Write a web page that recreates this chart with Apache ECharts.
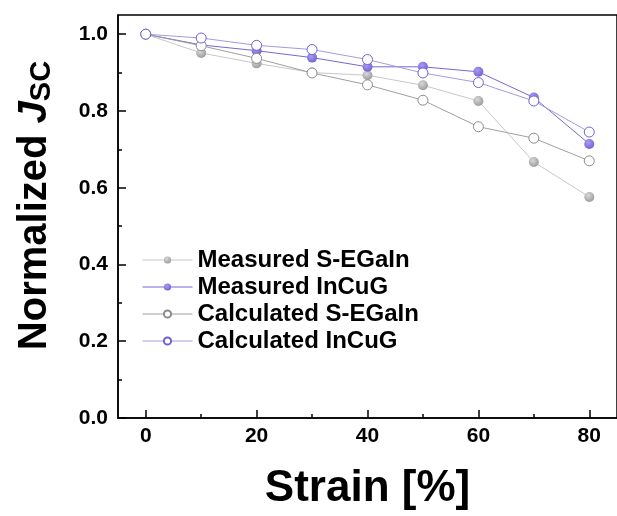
<!DOCTYPE html>
<html>
<head>
<meta charset="utf-8">
<script src="https://cdn.jsdelivr.net/npm/echarts@6/dist/echarts.min.js"></script>
<style>
html,body{margin:0;padding:0;background:#fff;}
#chart{width:617px;height:516px;}
</style>
</head>
<body>
<div id="chart"></div>
<script>
const strain = [0, 10, 20, 30, 40, 50, 60, 70, 80];
const measuredSEGaIn = [1.0, 0.951, 0.924, 0.900, 0.893, 0.867, 0.826, 0.667, 0.576];
const measuredInCuG = [1.0, 0.972, 0.957, 0.939, 0.915, 0.915, 0.902, 0.835, 0.714];
const calculatedSEGaIn = [1.0, 0.970, 0.937, 0.899, 0.868, 0.828, 0.759, 0.729, 0.670];
const calculatedInCuG = [1.0, 0.990, 0.971, 0.960, 0.934, 0.899, 0.874, 0.826, 0.745];
const seriesNames = ['Measured S-EGaIn', 'Measured InCuG', 'Calculated S-EGaIn', 'Calculated InCuG'];
const xMajor = [0, 20, 40, 60, 80];
const xMinor = [10, 30, 50, 70];
const yMajor = [0, 0.2, 0.4, 0.6, 0.8, 1.0];
const yMinor = [0.1, 0.3, 0.5, 0.7, 0.9];

const FONT = "'Liberation Sans', Arial, sans-serif";
const pairs = arr => strain.map((x, i) => [x, arr[i]]);

const grayBall = {type:'radial', x:0.4, y:0.35, r:0.7, colorStops:[{offset:0,color:'#d8d8d8'},{offset:1,color:'#989898'}]};
const purpleBall = {type:'radial', x:0.4, y:0.35, r:0.7, colorStops:[{offset:0,color:'#a89cf0'},{offset:1,color:'#6f5fd6'}]};

function mkSeries(name, data, lineColor, itemStyle) {
  return {
    name, type:'line', data: pairs(data), xAxisIndex:0, yAxisIndex:0,
    symbol:'circle', symbolSize:10,
    lineStyle:{color:lineColor, width:1},
    itemStyle, emphasis:{disabled:true}, animation:false
  };
}

const chart = echarts.init(document.getElementById('chart'));
chart.setOption({
  backgroundColor:'#fff',
  animation:false,
  grid:{left:118, top:15, right:-1, bottom:97, show:true, borderColor:'#000', borderWidth:1.5, backgroundColor:'transparent'},
  legend:{
    orient:'vertical', left:142, top:248, padding:0, itemWidth:50, itemHeight:9, itemGap:3,
    lineStyle:{width:1},
    textStyle:{fontFamily:FONT, fontWeight:'bold', fontSize:24, color:'#000'},
    data: seriesNames
  },
  xAxis:[{
    type:'value', min:-5, max:85,
    name:'Strain [%]', nameLocation:'middle', nameGap:49,
    nameTextStyle:{fontFamily:FONT, fontWeight:'bold', fontSize:44, color:'#000'},
    axisLine:{show:true, onZero:false, lineStyle:{color:'#000', width:1.5}},
    axisTick:{show:true, inside:true, length:8, lineStyle:{color:'#000', width:1.5}, customValues:xMajor},
    axisLabel:{fontFamily:FONT, fontWeight:'bold', fontSize:21, color:'#000', margin:8, customValues:xMajor},
    splitLine:{show:false}
  },{
    type:'value', min:-5, max:85, position:'bottom',
    axisLine:{show:false, onZero:false},
    axisTick:{show:true, inside:true, length:4, lineStyle:{color:'#000', width:1.5}, customValues:xMinor},
    axisLabel:{show:false}, splitLine:{show:false}
  }],
  yAxis:[{
    type:'value', min:0, max:1.05,
    name:'{a|Normalized }{b|J}{c|SC}', nameLocation:'middle', nameGap:62,
    nameTextStyle:{
      fontFamily:FONT, fontWeight:'bold', fontSize:40, color:'#000', padding:[0,0,0,22],
      rich:{
        a:{fontFamily:FONT, fontWeight:'bold', fontSize:40, color:'#000'},
        b:{fontFamily:FONT, fontWeight:'bold', fontStyle:'italic', fontSize:40, color:'#000'},
        c:{fontFamily:FONT, fontWeight:'bold', fontSize:29, color:'#000', verticalAlign:'bottom', padding:[14,0,0,0]}
      }
    },
    axisLine:{show:true, onZero:false, lineStyle:{color:'#000', width:1.5}},
    axisTick:{show:true, inside:true, length:8, lineStyle:{color:'#000', width:1.5}, customValues:yMajor},
    axisLabel:{fontFamily:FONT, fontWeight:'bold', fontSize:21, color:'#000', margin:10, customValues:yMajor, formatter:v=>v.toFixed(1)},
    splitLine:{show:false}
  },{
    type:'value', min:0, max:1.05, position:'left',
    axisLine:{show:false, onZero:false},
    axisTick:{show:true, inside:true, length:4, lineStyle:{color:'#000', width:1.5}, customValues:yMinor},
    axisLabel:{show:false}, splitLine:{show:false}
  }],
  series:[
    mkSeries(seriesNames[0], measuredSEGaIn, '#c8c8c8', {color:grayBall, borderColor:'#a0a0a0', borderWidth:0}),
    mkSeries(seriesNames[1], measuredInCuG, '#7569cf', {color:purpleBall, borderColor:'#7060d8', borderWidth:0}),
    mkSeries(seriesNames[2], calculatedSEGaIn, '#a0a0a0', {color:'#fff', borderColor:'#8c8c8c', borderWidth:1}),
    mkSeries(seriesNames[3], calculatedInCuG, '#a59ce0', {color:'#fff', borderColor:'#6f62d0', borderWidth:1})
  ]
});
</script>
</body>
</html>
